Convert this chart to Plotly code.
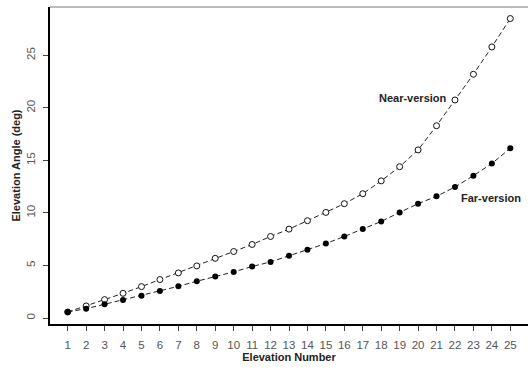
import plotly.graph_objects as go

elevation_number = list(range(1, 26))
near_version = [0.57, 1.15, 1.75, 2.35, 2.99, 3.66, 4.29, 4.96, 5.68, 6.33,
                7.00, 7.76, 8.46, 9.26, 10.05, 10.88, 11.83, 13.05, 14.40, 16.00,
                18.30, 20.75, 23.20, 25.80, 28.50]
far_version = [0.57, 0.89, 1.31, 1.72, 2.13, 2.58, 3.02, 3.50, 3.94, 4.39,
               4.90, 5.34, 5.92, 6.49, 7.09, 7.76, 8.46, 9.19, 10.05, 10.88,
               11.58, 12.47, 13.55, 14.70, 16.16]
y_ticks = [0, 5, 10, 15, 20, 25]

FONT = "Liberation Sans, Arial, sans-serif"

fig = go.Figure()
fig.add_trace(go.Scatter(
    x=elevation_number, y=near_version, mode="lines+markers", name="Near-version",
    line=dict(color="#222", width=1, dash="5px,3px"),
    marker=dict(symbol="circle", size=6, color="white", line=dict(color="#111", width=1)),
))
fig.add_trace(go.Scatter(
    x=elevation_number, y=far_version, mode="lines+markers", name="Far-version",
    line=dict(color="#222", width=1, dash="5px,3px"),
    marker=dict(symbol="circle", size=6, color="black", line=dict(color="black", width=0)),
))

fig.add_annotation(x=19.7, y=20.9, text="<b>Near-version</b>", showarrow=False,
                   font=dict(family=FONT, size=11, color="#222"))
fig.add_annotation(x=23.94, y=11.45, text="<b>Far-version</b>", showarrow=False,
                   font=dict(family=FONT, size=11, color="#222"))

fig.add_shape(type="line", xref="paper", yref="paper", x0=0, x1=1, y0=1, y1=1,
              line=dict(color="#777", width=1))

fig.update_layout(
    width=529, height=371,
    margin=dict(l=50, r=1, t=7, b=47),
    paper_bgcolor="white", plot_bgcolor="white",
    showlegend=False,
    font=dict(family=FONT, size=11, color="#555"),
    xaxis=dict(
        range=[0.04, 25.96], tickmode="array", tickvals=elevation_number,
        ticktext=[str(v) for v in elevation_number],
        showgrid=False, zeroline=False, showline=True, linecolor="black", linewidth=2,
        ticks="outside", ticklen=5, tickcolor="#444", ticklabelstandoff=4,
        tickfont=dict(size=11.5, color="#555"),
        title=dict(text="<b>Elevation Number</b>", font=dict(size=11, color="#222"), standoff=2),
    ),
    yaxis=dict(
        range=[-0.57, 29.6], tickmode="array", tickvals=y_ticks,
        showgrid=False, zeroline=False, showline=True, linecolor="black", linewidth=2,
        ticks="outside", ticklen=5, tickcolor="#444", tickangle=-90, ticklabelstandoff=3,
        tickfont=dict(size=11.5, color="#555"),
        title=dict(text="<b>Elevation Angle (deg)</b>", font=dict(size=11, color="#222"), standoff=3),
    ),
)

fig.write_html("out.html", config={"displayModeBar": False},
               post_script="document.body.style.margin='0';document.body.style.overflow='hidden';")
